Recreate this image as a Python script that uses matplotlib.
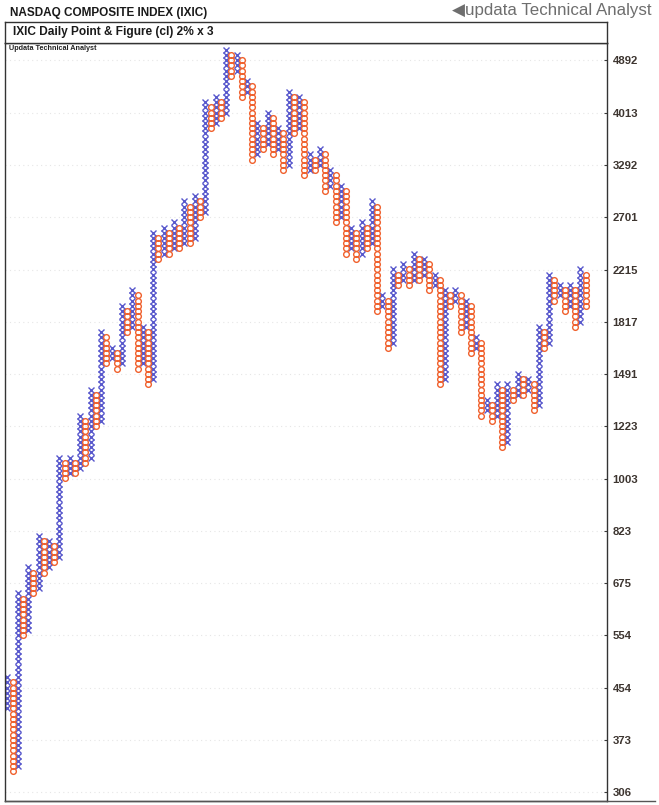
import matplotlib.pyplot as plt
import numpy as np

# Point & figure: 2% boxes, 3 box reversal, box 0 = 306
base_price = 306.0
box_pct = 0.02

# column extents in boxes (even index = X column, odd index = O column)
col_low = [16, 4, 5, 30, 31, 38, 39, 42, 43, 44,
           45, 60, 61, 61, 62, 63, 64, 70, 71, 82,
           83, 81, 82, 88, 89, 81, 82, 78, 79, 102,
           103, 103, 104, 104, 105, 105, 106, 110, 111, 127,
           128, 129, 130, 137, 138, 133, 134, 121, 122, 123,
           124, 122, 123, 119, 120, 126, 127, 118, 119, 119,
           120, 115, 116, 109, 110, 103, 104, 102, 103, 104,
           105, 92, 93, 85, 86, 97, 98, 97, 98, 98,
           99, 96, 97, 78, 79, 93, 94, 88, 89, 84,
           85, 72, 73, 71, 72, 66, 67, 75, 76, 76,
           77, 73, 74, 85, 86, 94, 95, 92, 93, 89,
           90, 93]
col_high = [22, 21, 38, 37, 43, 42, 49, 48, 48, 47,
            64, 63, 64, 63, 72, 71, 77, 76, 88, 87,
            85, 84, 93, 92, 96, 95, 89, 88, 107, 106,
            108, 107, 109, 108, 113, 112, 114, 113, 132, 131,
            133, 132, 142, 141, 141, 140, 136, 135, 128, 127,
            130, 129, 127, 126, 134, 133, 133, 132, 122, 121,
            123, 122, 119, 118, 116, 115, 108, 107, 109, 108,
            113, 112, 95, 94, 100, 99, 101, 100, 103, 102,
            102, 101, 99, 98, 96, 95, 96, 95, 94, 93,
            87, 86, 75, 74, 78, 77, 78, 77, 80, 79,
            79, 78, 89, 88, 99, 98, 97, 96, 97, 96,
            100, 99]

tick_labels = [306, 373, 454, 554, 675, 823, 1003, 1223, 1491, 1817,
               2215, 2701, 3292, 4013, 4892]

x_col = "#5858cc"
o_col = "#f0602c"

W, H = 659, 805
fig = plt.figure(figsize=(W / 100, H / 100), dpi=100)
fig.patch.set_facecolor("white")

ax = fig.add_axes([5 / W, (H - 801) / H, 602 / W, 758 / H])

xs_x, ys_x, xs_o, ys_o = [], [], [], []
for i, (lo, hi) in enumerate(zip(col_low, col_high)):
    levels = np.arange(lo, hi + 1)
    prices = base_price * (1 + box_pct) ** levels
    if i % 2 == 0:
        xs_x += [i] * len(levels)
        ys_x += list(prices)
    else:
        xs_o += [i] * len(levels)
        ys_o += list(prices)

ax.plot(xs_x, ys_x, linestyle="none", marker="x", ms=4.4, mew=1.0, color=x_col)
ax.plot(xs_o, ys_o, linestyle="none", marker="o", ms=4.1, mew=1.0,
        mfc="none", mec=o_col)

ax.set_yscale("log")
ax.set_ylim(base_price * 1.02 ** -1.7, base_price * 1.02 ** 143.3)
ax.set_xlim(-0.45, 115.1)

ax.yaxis.tick_right()
ax.set_yticks(tick_labels)
ax.set_yticklabels([str(t) for t in tick_labels])
ax.yaxis.set_minor_locator(plt.NullLocator())
ax.tick_params(axis="y", direction="in", length=2, width=0.8, pad=4,
               labelsize=8.2, labelcolor="#3d3530", colors="#3a3a3a")
for lab in ax.get_yticklabels():
    lab.set_fontweight("bold")
    lab.set_family("Liberation Sans")
ax.set_xticks([])
ax.grid(axis="y", color="#e6e6e6", linestyle=(0, (1, 3)), linewidth=0.8)
for s in ax.spines.values():
    s.set_color("#333333")
    s.set_linewidth(1.0)

ax.text(0.006, 0.997, "Updata Technical Analyst", transform=ax.transAxes,
        ha="left", va="top", fontsize=5.2, fontweight="bold", color="#222222",
        family="Liberation Sans")

# header band with subtitle
hax = fig.add_axes([5 / W, (H - 43) / H, 602 / W, 21 / H])
hax.set_xticks([])
hax.set_yticks([])
for s in hax.spines.values():
    s.set_color("#333333")
    s.set_linewidth(1.0)
hax.text(0.014, 0.5, "IXIC Daily Point & Figure (cl) 2% x 3", transform=hax.transAxes,
         ha="left", va="center", fontsize=8.6, fontweight="bold", color="#1a1a1a",
         family="Liberation Sans")

# bottom rule running to the edge
fig.add_artist(plt.Line2D([5 / W, 655 / W], [(H - 801) / H] * 2,
                          color="#555555", linewidth=1.0))

fig.text(10 / W, 1 - 13 / H, "NASDAQ COMPOSITE INDEX (IXIC)", ha="left", va="center",
         fontsize=8.5, fontweight="bold", color="#1a1a1a", family="Liberation Sans")
fig.text(652 / W, 1 - 11 / H, "\u25c0updata Technical Analyst", ha="right", va="center",
         fontsize=12.2, color="#6e6e6e", family=["Liberation Sans", "DejaVu Sans"])

fig.savefig("out.png", dpi=100)
